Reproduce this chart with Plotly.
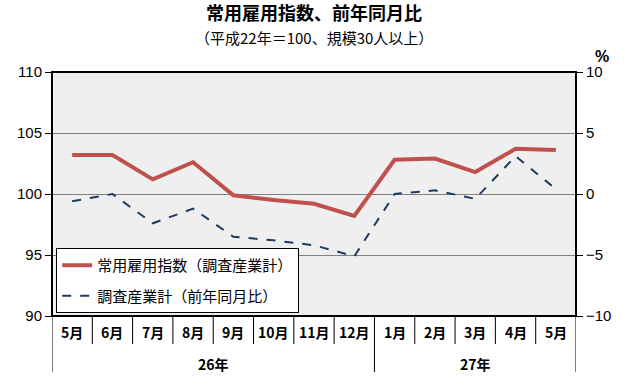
import plotly.graph_objects as go

months = ["5月", "6月", "7月", "8月", "9月", "10月", "11月", "12月",
          "1月", "2月", "3月", "4月", "5月"]
years = ["26年", "27年"]
year_spans = [(0, 7), (8, 12)]
index_vals = [103.2, 103.2, 101.2, 102.6, 99.9, 99.5, 99.2, 98.2,
              102.8, 102.9, 101.8, 103.7, 103.6]
yoy_vals = [-0.6, 0.0, -2.4, -1.2, -3.5, -3.8, -4.2, -5.1,
            0.0, 0.3, -0.4, 3.1, 0.4]
left_ticks = [90, 95, 100, 105, 110]
right_ticks = [-10, -5, 0, 5, 10]

JP = "Noto Sans CJK JP"
x = list(range(len(months)))

fig = go.Figure()
fig.add_trace(go.Scatter(
    x=x, y=index_vals, mode="lines", name="常用雇用指数（調査産業計）",
    legendgroup="a", line=dict(color="#c0504d", width=4), yaxis="y"))
fig.add_trace(go.Scatter(
    x=x, y=yoy_vals, mode="lines", name="調査産業計（前年同月比）",
    legendgroup="b", line=dict(color="#1f3a5f", width=2, dash="dash"), yaxis="y2"))

shapes = []
shapes.append(dict(type="rect", xref="paper", yref="paper", x0=0, x1=1, y0=0, y1=1,
                   line=dict(color="black", width=2), layer="above"))
row1 = -0.115
row2 = -0.23
n = len(months)
for k in range(n + 1):
    xb = k - 0.5
    full = (k == 0 or k == n or any(k == s for s, e in year_spans[1:]))
    shapes.append(dict(type="line", xref="x", yref="paper", x0=xb, x1=xb,
                       y0=0, y1=row2 if full else row1,
                       line=dict(color="black", width=1)))

annotations = []
for i, m in enumerate(months):
    annotations.append(dict(x=i, y=-0.067, xref="x", yref="paper", text="<b>" + m + "</b>",
                            showarrow=False, font=dict(family=JP, size=14, color="black"),
                            xanchor="center", yanchor="middle"))
for (s, e), yl in zip(year_spans, years):
    annotations.append(dict(x=(s + e) / 2, y=-0.198, xref="x", yref="paper",
                            text="<b>" + yl + "</b>", showarrow=False,
                            font=dict(family=JP, size=14, color="black"),
                            xanchor="center", yanchor="middle"))
annotations.append(dict(x=0.5, y=1.245, xref="paper", yref="paper",
                        text="<b>常用雇用指数、前年同月比</b>", showarrow=False,
                        font=dict(family=JP, size=18, color="black"),
                        xanchor="center", yanchor="middle"))
annotations.append(dict(x=0.5, y=1.14, xref="paper", yref="paper",
                        text="（平成22年＝100、規模30人以上）", showarrow=False,
                        font=dict(family=JP, size=15, color="black"),
                        xanchor="center", yanchor="middle"))
annotations.append(dict(x=1.05, y=1.065, xref="paper", yref="paper", text="<b>%</b>",
                        showarrow=False, font=dict(family="Liberation Sans", size=16, color="black"),
                        xanchor="center", yanchor="middle"))

fig.update_layout(
    width=630, height=380,
    margin=dict(l=52, r=54, t=72, b=64),
    paper_bgcolor="white", plot_bgcolor="#efefef",
    showlegend=True,
    legend=dict(x=0.008, y=0.279, xanchor="left", yanchor="top",
                bgcolor="white", bordercolor="black", borderwidth=1,
                font=dict(family=JP, size=15, color="black"),
                traceorder="grouped", tracegroupgap=8, itemwidth=30),
    xaxis=dict(range=[-0.5, n - 0.5], showticklabels=False, showgrid=False,
               zeroline=False, ticks="", fixedrange=True),
    yaxis=dict(range=[90, 110], tickvals=left_ticks, ticks="outside", ticklen=6,
               tickcolor="black", showgrid=True, gridcolor="#808080", gridwidth=1,
               zeroline=False, tickfont=dict(family="Liberation Sans", size=15, color="black")),
    yaxis2=dict(range=[-10, 10], tickvals=right_ticks, overlaying="y", side="right",
                ticks="outside", ticklen=6, tickcolor="black", showgrid=False,
                zeroline=False, tickfont=dict(family="Liberation Sans", size=15, color="black")),
    shapes=shapes, annotations=annotations,
)
fig.write_html("out.html", config={"displayModeBar": False},
               post_script="document.body.style.margin='0';")
